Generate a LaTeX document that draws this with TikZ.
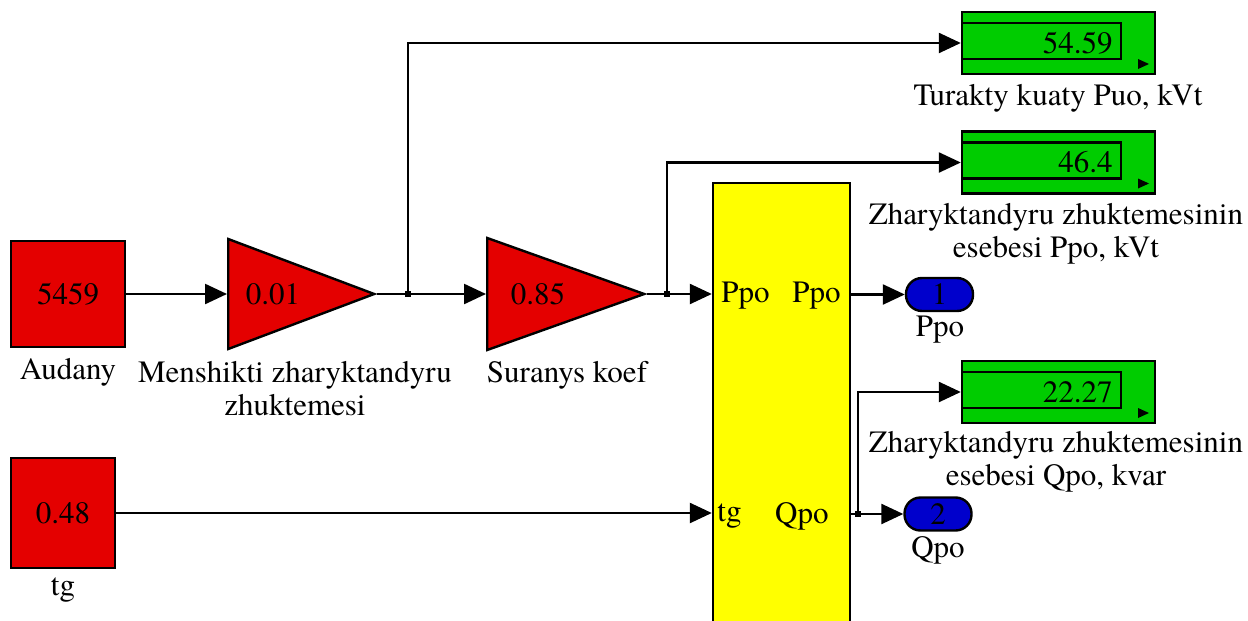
\documentclass[tikz,border=0pt]{standalone}
\usepackage{fontspec}
\setmainfont{texgyretermes}[Extension=.otf,UprightFont=*-regular,BoldFont=*-bold,ItalicFont=*-italic,BoldItalicFont=*-bolditalic]
\usetikzlibrary{arrows.meta,calc,shapes.geometric}
\definecolor{RedClr}{RGB}{228,0,0}
\definecolor{GreenClr}{RGB}{0,204,0}
\definecolor{BlueClr}{RGB}{0,0,204}
\definecolor{YellowClr}{RGB}{255,255,0}

\begin{document}
\begin{tikzpicture}[x=0.5pt,y=-0.5pt,
  every node/.style={font=\rmfamily\fontsize{15.5pt}{16.5pt}\selectfont},
  blk/.style={draw,line width=1.2pt,inner sep=0pt},
  constblk/.style={blk,fill=RedClr},
  gainblk/.style={blk,fill=RedClr,isosceles triangle,isosceles triangle stretches,shape border rotate=0,anchor=west},
  dispblk/.style={blk,fill=GreenClr,minimum width=96.5pt,minimum height=31pt,text width=54pt,align=right,
    path picture={
      \draw[black,line width=1.2pt] ([shift={(0,11)}]path picture bounding box.north west) rectangle ([shift={(-34,-15)}]path picture bounding box.south east);
      \fill[black] ([shift={(-17,-15)}]path picture bounding box.south east) -- ++(0,10) -- ++(11,-5) -- cycle;}},
  outblk/.style={blk,fill=BlueClr,rounded corners=8pt,minimum width=33.5pt,minimum height=16.5pt},
  subblk/.style={blk,fill=YellowClr,minimum width=68.5pt,minimum height=228.5pt},
  jdot/.style={fill=black,inner sep=0pt,minimum size=3pt},
  sig/.style={line width=1.2pt,-{Triangle[length=11pt,width=10pt]}}]
\clip (0,0) rectangle (1248,621);

% sources
\node[constblk,minimum width=57pt,minimum height=53pt] (audany) at (68,294) {5459};
\node (audanyLbl) at (68,372) {Audany};
\node[constblk,minimum width=52pt,minimum height=55pt] (tg) at (63,513) {0.48};
\node (tgLbl) at (63,590) {tg};

% gains
\node[gainblk,minimum width=55pt,minimum height=73pt] (gainA) at (227,294) {};
\node (gainAval) at ($(gainA.west)+(46,0)$) {0.01};
\node[align=center] (gainAlbl) at (295,389) {Menshikti zharyktandyru\\zhuktemesi};
\node[gainblk,minimum width=56pt,minimum height=78.5pt] (gainB) at (486,294) {};
\node (gainBval) at ($(gainB.west)+(52,0)$) {0.85};
\node (gainBlbl) at (567,375) {Suranys koef};

% subsystem
\node[subblk] (zhukt) at (781.5,411.5) {};
\node[anchor=west,inner sep=0pt] (zhuktInP) at (721,296) {Ppo};
\node[anchor=east,inner sep=0pt] (zhuktOutP) at (841,296) {Ppo};
\node[anchor=west,inner sep=0pt] (zhuktInT) at (717,516) {tg};
\node[anchor=east,inner sep=0pt] (zhuktOutQ) at (829,516) {Qpo};

% displays
\node[dispblk] (dispA) at (1058.5,43) {54.59};
\node (dispAlbl) at (1058,98) {Turakty kuaty Puo, kVt};
\node[dispblk] (dispB) at (1058.5,162.5) {46.4};
\node[align=center] (dispBlbl) at (1056,234) {Zharyktandyru zhuktemesinin\\esebesi Ppo, kVt};
\node[dispblk] (dispC) at (1058.5,392) {22.27};
\node[align=center] (dispClbl) at (1056,462) {Zharyktandyru zhuktemesinin\\esebesi Qpo, kvar};

% outports
\node[outblk] (outA) at (939.5,294.5) {1};
\node (outAlbl) at (940,330) {Ppo};
\node[outblk] (outB) at (938,514) {2};
\node (outBlbl) at (938,550) {Qpo};

% branch points
\node[jdot] (jA) at (408,294) {};
\node[jdot] (jB) at (667,294) {};
\node[jdot] (jC) at (858,514) {};

\draw[sig] (audany.east) -- (gainA.west);
\draw[sig] (gainA.apex) -- (gainB.west);
\draw[sig] (jA.center) |- (dispA.west);
\draw[sig] (gainB.apex) -- (gainB.apex -| zhukt.west);
\draw[sig] (jB.center) |- (dispB.west);
\draw[sig] (zhukt.east |- outA.west) -- (outA.west);
\draw[sig] (tg.east) -- (tg.east -| zhukt.west);
\draw[sig] (zhukt.east |- outB.west) -- (outB.west);
\draw[sig] (jC.center) |- (dispC.west);

\end{tikzpicture}
\end{document}
